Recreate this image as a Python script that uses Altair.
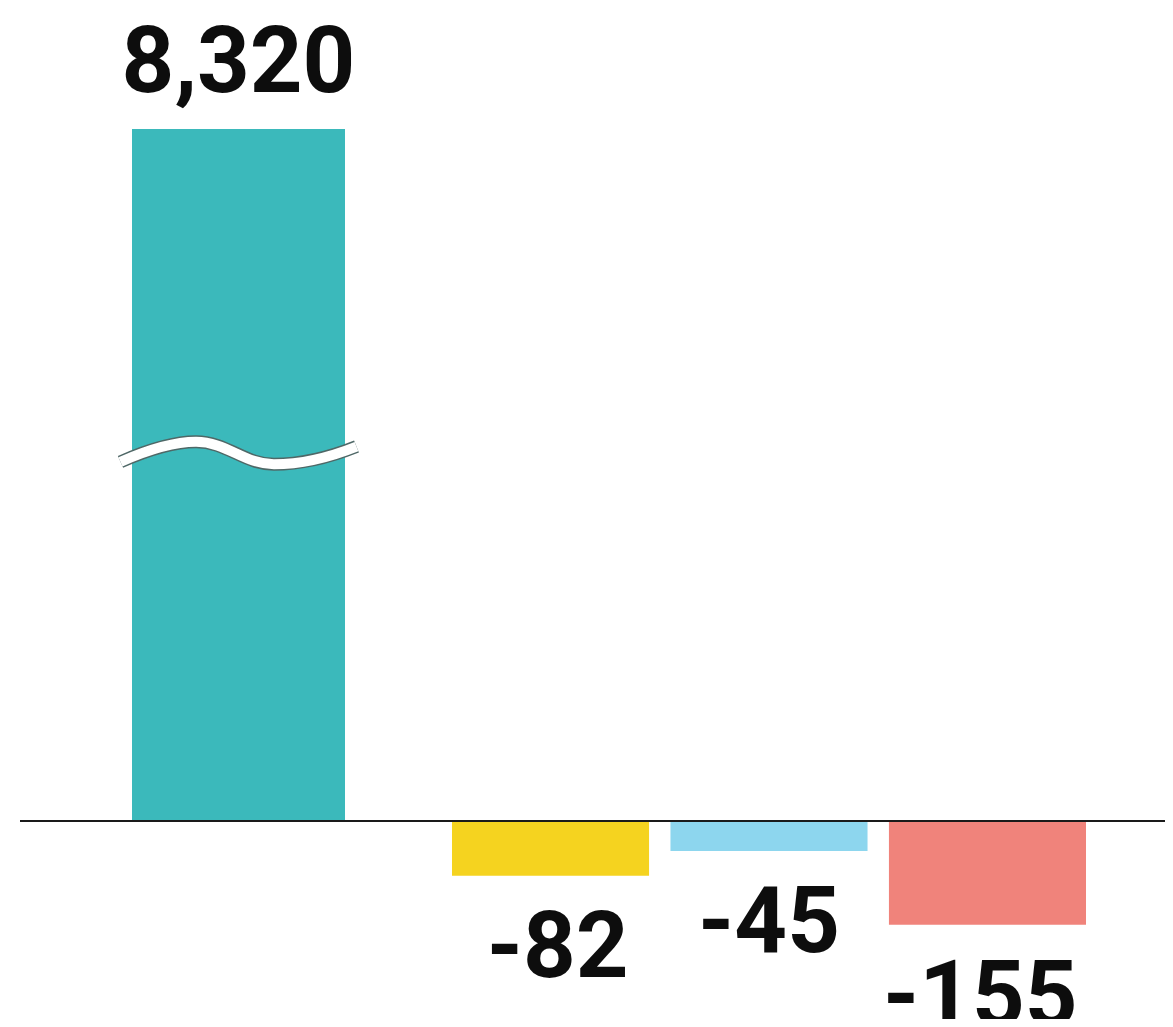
import altair as alt
import pandas as pd

# ---- data ----
categories = ["Total", "A", "B", "C"]
values = [8320, -82, -45, -155]
labels = ["8,320", "-82", "-45", "-155"]
colors = ["#3bb9bb", "#f5d31f", "#8dd6ee", "#f0837b"]

# ---- broken-axis settings (styling) ----
BREAK_CAP = 1034      # displayed height of the broken bar, in value units
BREAK_AT = 549        # where the wave break sits, in value units
FONT = "Roboto, Liberation Sans, sans-serif"
FONT_SIZE = 92
WAVE = ("M-1,0.07 C-0.75,-0.04 -0.55,-0.1 -0.36,-0.1 "
        "C-0.1,-0.1 0.05,0.09 0.3,0.09 C0.55,0.09 0.8,0.02 1,-0.06")

df = pd.DataFrame({"cat": categories, "value": values, "label": labels, "color": colors})
df["brk"] = BREAK_AT
big = df.iloc[:1].copy()
small = df.iloc[1:].copy()

yscale = alt.Scale(domain=[-296, 1215], nice=False, zero=False)
big_x = alt.X("cat:N", axis=None,
              scale=alt.Scale(range=[124, 337], paddingInner=0, paddingOuter=0))
small_x = alt.X("cat:N", axis=None, sort=categories[1:],
                scale=alt.Scale(range=[444, 1078], paddingInner=0.098, paddingOuter=0))
text_style = dict(baseline="alphabetic", align="center", fontSize=FONT_SIZE,
                  fontWeight="bold", font=FONT, color="#0d0d0d")

big_base = alt.Chart(big).transform_calculate(
    shown=f"min(datum.value, {BREAK_CAP})"
)
big_bar = big_base.mark_bar().encode(
    x=big_x, y=alt.Y("shown:Q", scale=yscale, axis=None),
    color=alt.Color("color:N", scale=None),
)
big_text = big_base.mark_text(dy=-37, **text_style).encode(
    x=big_x, y=alt.Y("shown:Q", scale=yscale, axis=None), text="label:N")
wave_dark = alt.Chart(big).mark_point(
    shape=WAVE, size=55696, filled=False, stroke="#4f6867",
    strokeWidth=13, opacity=1,
).encode(x=big_x, y=alt.Y("brk:Q", scale=yscale, axis=None))
wave_light = alt.Chart(big).mark_point(
    shape=WAVE, size=55696, filled=False, stroke="#ffffff",
    strokeWidth=10, opacity=1,
).encode(x=big_x, y=alt.Y("brk:Q", scale=yscale, axis=None))

small_bar = alt.Chart(small).mark_bar().encode(
    x=small_x, y=alt.Y("value:Q", scale=yscale, axis=None),
    color=alt.Color("color:N", scale=None),
)
small_text = alt.Chart(small).mark_text(dy=101, **text_style).encode(
    x=small_x, y=alt.Y("value:Q", scale=yscale, axis=None), text="label:N")

rule = alt.Chart(big).mark_rule(color="#1a1a1a", strokeWidth=2).encode(
    y=alt.datum(0), x=alt.value(12), x2=alt.value(1157)
)

chart = alt.layer(
    big_bar, wave_dark, wave_light, big_text, small_bar, small_text, rule
).resolve_scale(x="independent").properties(
    width=1157, height=1011, autosize="none", padding=0, background="white"
).configure_view(stroke=None)

chart.save("out.html", embed_options={"renderer": "svg", "actions": False})
